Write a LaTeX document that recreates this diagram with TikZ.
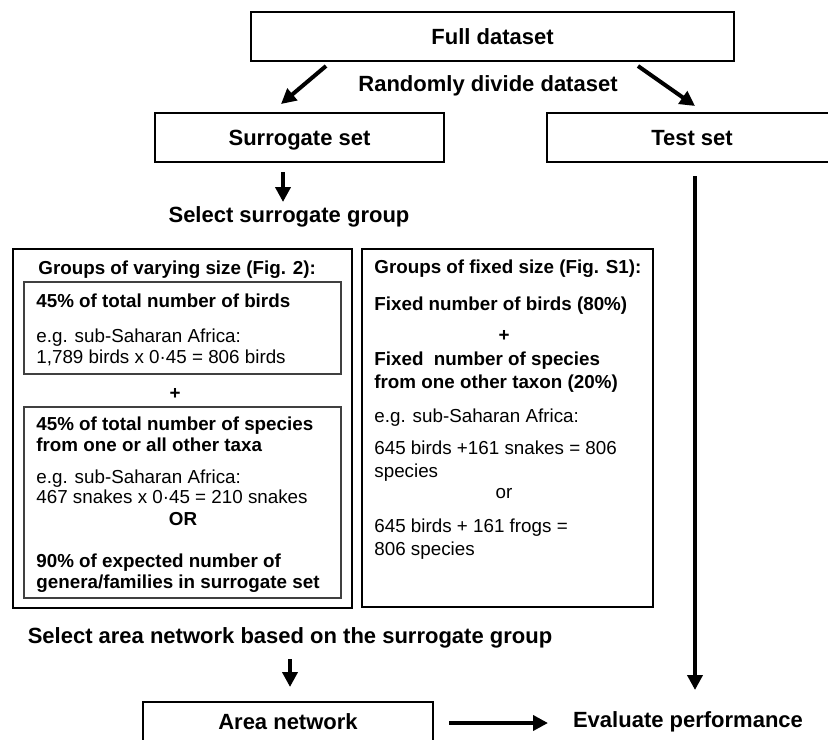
\documentclass[tikz,border=0pt]{standalone}
\usepackage{fontspec}
\setmainfont{Liberation Sans}
\usetikzlibrary{arrows.meta}

\tikzset{
  box/.style={draw, line width=1pt, minimum height=24.5pt, inner sep=0pt, text depth=0pt,
    font=\fontsize{11}{13}\selectfont\bfseries},
  grp/.style={draw, line width=1.2pt},
  sub/.style={draw=black!75, line width=0.6pt},
  lbl/.style={inner sep=0pt, font=\fontsize{11}{13}\selectfont\bfseries},
  bl/.style={anchor=base west, inner sep=0pt, font=\fontsize{9.4}{11}\selectfont\bfseries},
  rl/.style={anchor=base west, inner sep=0pt, font=\fontsize{9.4}{11}\selectfont},
  bc/.style={anchor=base, inner sep=0pt, font=\fontsize{9.4}{11}\selectfont\bfseries},
  rc/.style={anchor=base, inner sep=0pt, font=\fontsize{9.4}{11}\selectfont},
  arr/.style={line width=2pt, -{Triangle[length=7.5pt,width=7.5pt]}},
}

\begin{document}
\begin{tikzpicture}[x=0.5pt, y=-0.5pt]
  \useasboundingbox (0,0) rectangle (828,739);
  \clip (0,0) rectangle (828,739);

  % top: split of the data
  \node[box, minimum width=241.5pt] (full) at (492.5,36.5) {Full dataset};
  \node[lbl] (divide) at (488,86) {Randomly divide dataset};
  \node[box, minimum width=144.5pt] (surr) at (299.5,137.5) {Surrogate set};
  \node[box, minimum width=145pt] (test) at (692,137.5) {Test set};

  \coordinate (fL) at (326,66);
  \coordinate (sT) at (281,104);
  \coordinate (fR) at (638,66);
  \coordinate (tT) at (695,106);
  \draw[arr] (fL) -- (sT);
  \draw[arr] (fR) -- (tT);

  \coordinate (sB) at (283,172);
  \coordinate (gT) at (283,202);
  \draw[arr] (sB) -- (gT);
  \node[lbl] (selgrp) at (289,217) {Select surrogate group};

  % groups of varying size
  \draw[grp] (13,249) rectangle (352,608);
  \draw[sub] (24,282) rectangle (341,374);
  \draw[sub] (24,407) rectangle (341,598);

  \node[bl] (v0) at (38,274) {Groups of varying size (Fig. 2):};
  \node[bl] (v1) at (36,307) {45\% of total number of birds};
  \node[rl] (v2) at (36,342) {e.g. sub-Saharan Africa:};
  \node[rl] (v3) at (36,363) {1,789 birds x 0·45 = 806 birds};
  \node[bc] (vplus) at (175,399) {+};
  \node[bl] (v4) at (36,430) {45\% of total number of species};
  \node[bl] (v5) at (36,451) {from one or all other taxa};
  \node[rl] (v6) at (36,483) {e.g. sub-Saharan Africa:};
  \node[rl] (v7) at (36,503) {467 snakes x 0·45 = 210 snakes};
  \node[bc] (vor) at (183,525) {OR};
  \node[bl] (v8) at (36,567) {90\% of expected number of};
  \node[bl] (v9) at (36,588) {genera/families in surrogate set};

  % groups of fixed size
  \draw[grp] (362,249) rectangle (653,607);

  \node[bl] (f0) at (374,273) {Groups of fixed size (Fig. S1):};
  \node[bl] (f1) at (374,310) {Fixed number of birds (80\%)};
  \node[bc] (fplus) at (504,341) {+};
  \node[bl] (f2) at (374,365) {Fixed\ \ number of species};
  \node[bl] (f3) at (374,388) {from one other taxon (20\%)};
  \node[rl] (f4) at (374,422) {e.g. sub-Saharan Africa:};
  \node[rl] (f5) at (374,454) {645 birds +161 snakes = 806};
  \node[rl] (f6) at (374,477) {species};
  \node[rc] (for) at (504,498) {or};
  \node[rl] (f7) at (374,532) {645 birds + 161 frogs =};
  \node[rl] (f8) at (374,555) {806 species};

  % bottom
  \node[lbl] (selnet) at (290,638) {Select area network based on the surrogate group};
  \coordinate (nB) at (290,659);
  \coordinate (aT) at (290,687);
  \draw[arr] (nB) -- (aT);

  \node[box, minimum width=145pt, minimum height=20pt] (area) at (288,722) {Area network};
  \node[lbl] (eval) at (688,722) {Evaluate performance};

  \coordinate (tB) at (695,176);
  \coordinate (eT) at (695,690);
  \draw[arr] (tB) -- (eT);

  \coordinate (aR) at (449,723);
  \coordinate (eL) at (548,723);
  \draw[arr] (aR) -- (eL);
\end{tikzpicture}
\end{document}
